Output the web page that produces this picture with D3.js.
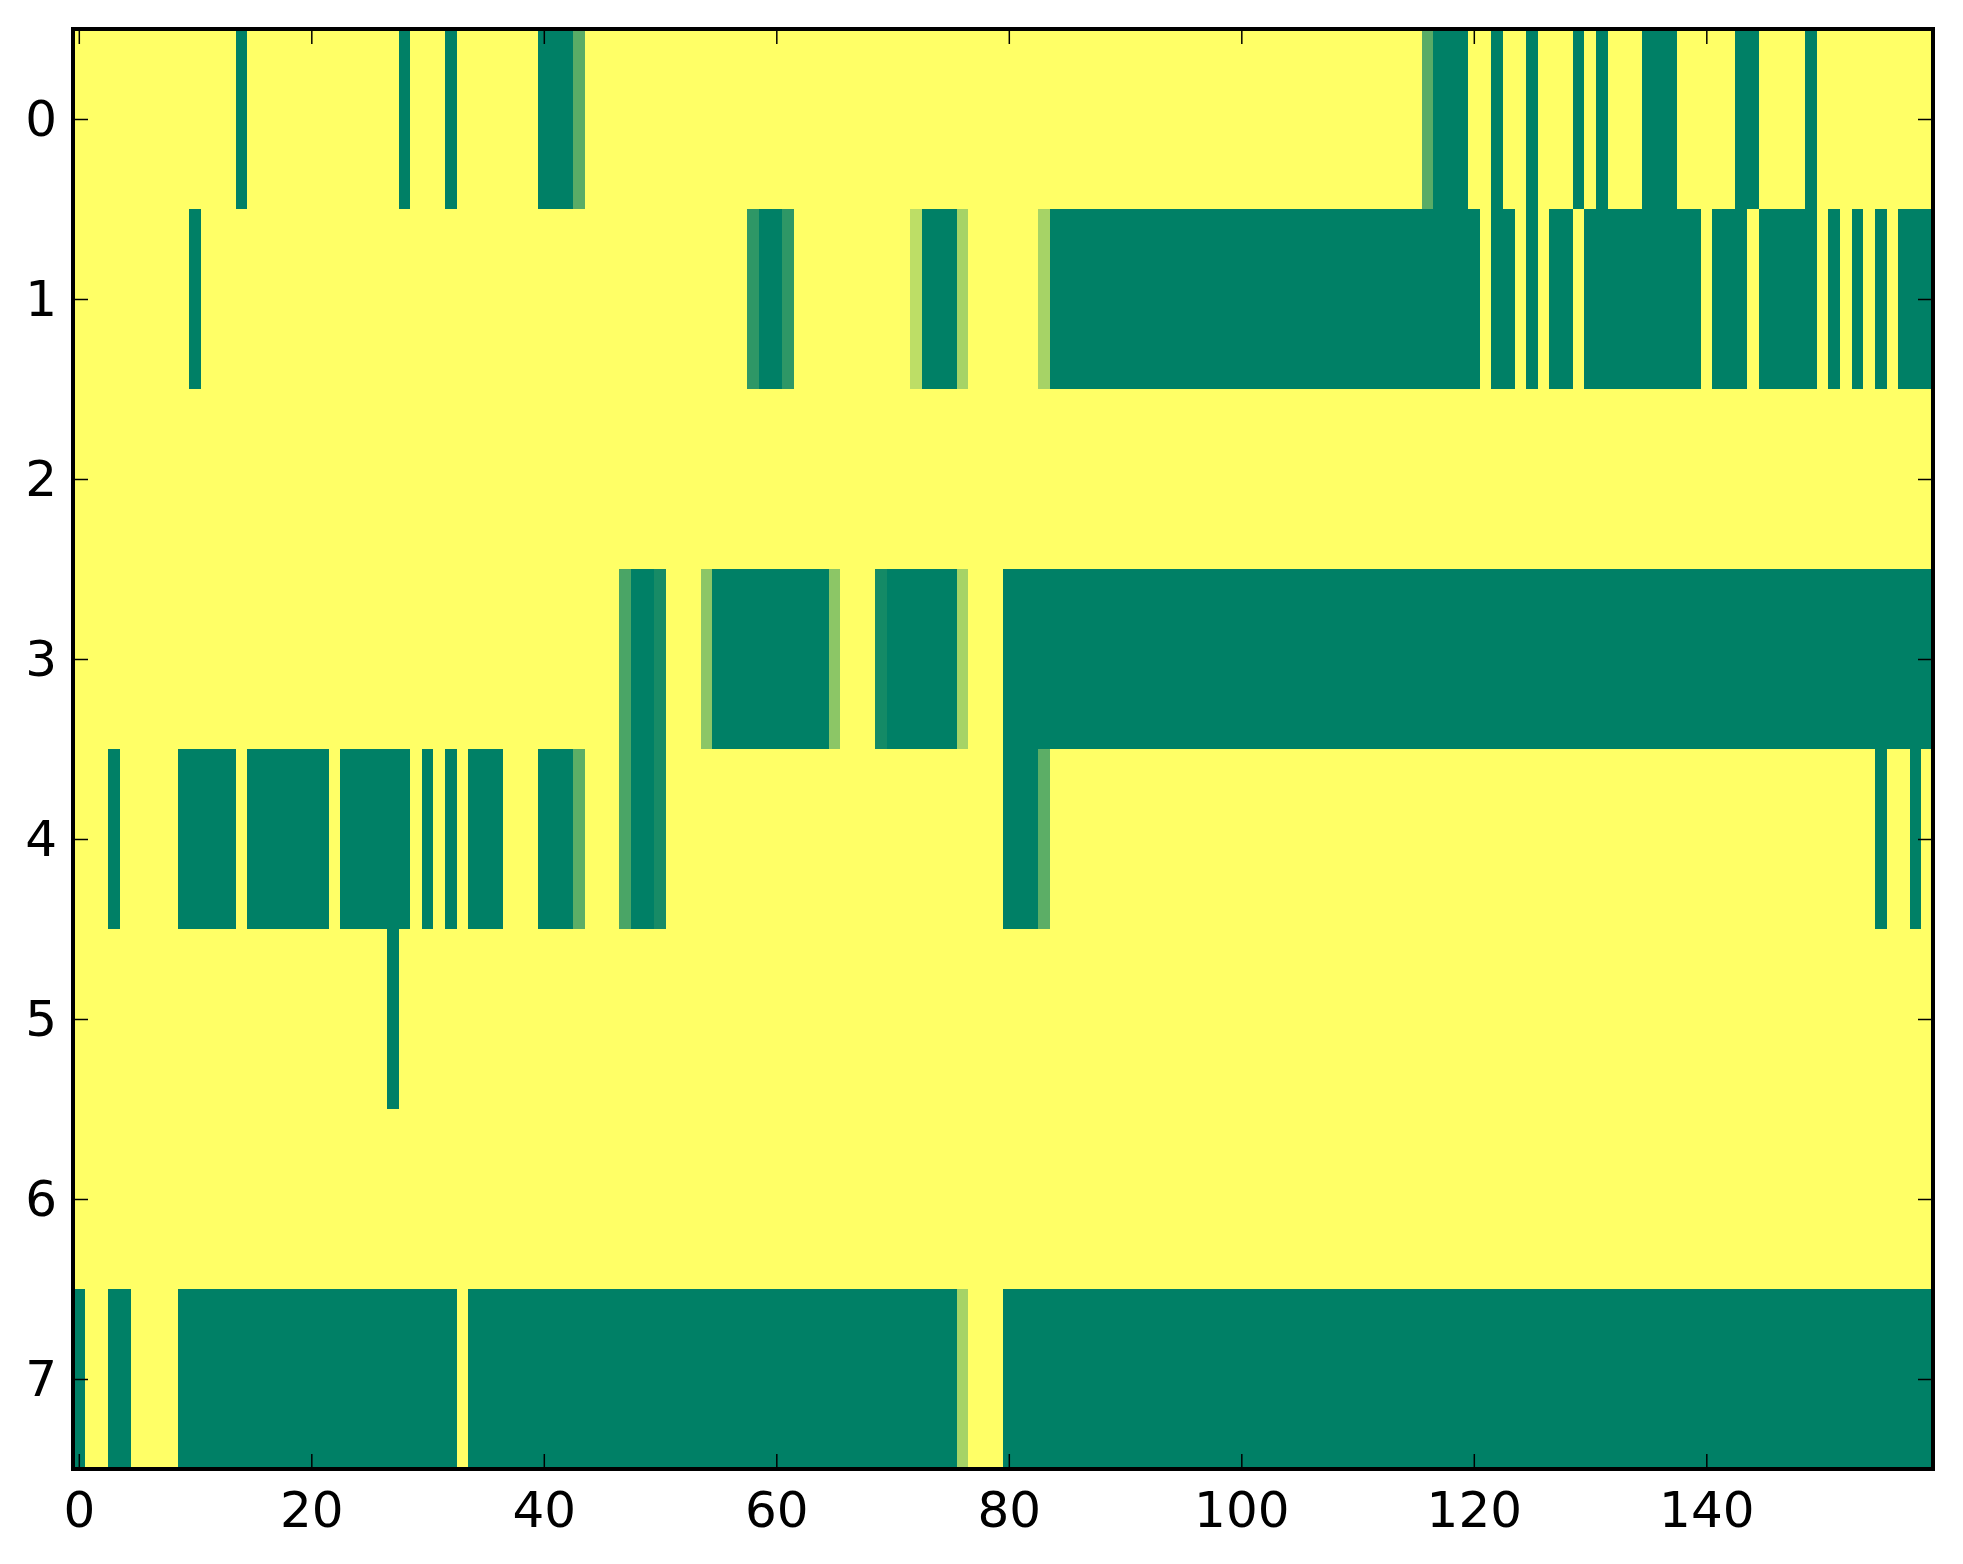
<!DOCTYPE html>
<html>
<head>
<meta charset="utf-8">
<script src="https://cdn.jsdelivr.net/npm/d3@7"></script>
<style>
  html, body { margin: 0; padding: 0; background: #ffffff; }
  svg { display: block; }
</style>
</head>
<body>
<div id="chart"></div>
<script>
// ---- Data: 8 rows x 160 columns (values 0..1, colormap "summer") ----
const rowLabels = [0, 1, 2, 3, 4, 5, 6, 7];
const xTickValues = [0, 20, 40, 60, 80, 100, 120, 140];
const yTickValues = [0, 1, 2, 3, 4, 5, 6, 7];

const row0 = [
  1,1,1,1,1,1,1,1,1,1,  1,1,1,1,0,1,1,1,1,1,  1,1,1,1,1,1,1,1,0,1,  1,1,0,1,1,1,1,1,1,1,
  0,0,0,.35,1,1,1,1,1,1,  1,1,1,1,1,1,1,1,1,1,  1,1,1,1,1,1,1,1,1,1,  1,1,1,1,1,1,1,1,1,1,
  1,1,1,1,1,1,1,1,1,1,  1,1,1,1,1,1,1,1,1,1,  1,1,1,1,1,1,1,1,1,1,  1,1,1,1,1,1,.35,0,0,0,
  1,1,0,1,1,0,1,1,1,0,  1,0,1,1,1,0,0,0,1,1,  1,1,1,0,0,1,1,1,1,0,  1,1,1,1,1,1,1,1,1,1
];
const row1 = [
  1,1,1,1,1,1,1,1,1,1,  0,1,1,1,1,1,1,1,1,1,  1,1,1,1,1,1,1,1,1,1,  1,1,1,1,1,1,1,1,1,1,
  1,1,1,1,1,1,1,1,1,1,  1,1,1,1,1,1,1,1,.18,0,  0,.18,1,1,1,1,1,1,1,1,  1,1,.74,0,0,0,.65,1,1,1,
  1,1,1,.65,0,0,0,0,0,0,  0,0,0,0,0,0,0,0,0,0,  0,0,0,0,0,0,0,0,0,0,  0,0,0,0,0,0,0,0,0,0,
  0,1,0,0,1,0,1,0,0,1,  0,0,0,0,0,0,0,0,0,0,  1,0,0,0,1,0,0,0,0,0,  1,0,1,0,1,0,1,0,0,0
];
const row2 = [
  1,1,1,1,1,1,1,1,1,1,  1,1,1,1,1,1,1,1,1,1,  1,1,1,1,1,1,1,1,1,1,  1,1,1,1,1,1,1,1,1,1,
  1,1,1,1,1,1,1,1,1,1,  1,1,1,1,1,1,1,1,1,1,  1,1,1,1,1,1,1,1,1,1,  1,1,1,1,1,1,1,1,1,1,
  1,1,1,1,1,1,1,1,1,1,  1,1,1,1,1,1,1,1,1,1,  1,1,1,1,1,1,1,1,1,1,  1,1,1,1,1,1,1,1,1,1,
  1,1,1,1,1,1,1,1,1,1,  1,1,1,1,1,1,1,1,1,1,  1,1,1,1,1,1,1,1,1,1,  1,1,1,1,1,1,1,1,1,1
];
const row3 = [
  1,1,1,1,1,1,1,1,1,1,  1,1,1,1,1,1,1,1,1,1,  1,1,1,1,1,1,1,1,1,1,  1,1,1,1,1,1,1,1,1,1,
  1,1,1,1,1,1,1,.29,0,0,  .09,1,1,1,.55,0,0,0,0,0,  0,0,0,0,0,.55,1,1,1,.08,  0,0,0,0,0,0,.65,1,1,1,
  0,0,0,0,0,0,0,0,0,0,  0,0,0,0,0,0,0,0,0,0,  0,0,0,0,0,0,0,0,0,0,  0,0,0,0,0,0,0,0,0,0,
  0,0,0,0,0,0,0,0,0,0,  0,0,0,0,0,0,0,0,0,0,  0,0,0,0,0,0,0,0,0,0,  0,0,0,0,0,0,0,0,0,0
];
const row4 = [
  1,1,1,0,1,1,1,1,1,0,  0,0,0,0,1,0,0,0,0,0,  0,0,1,0,0,0,0,0,0,1,  0,1,0,1,0,0,0,1,1,1,
  0,0,0,.36,1,1,1,.29,0,0,  .09,1,1,1,1,1,1,1,1,1,  1,1,1,1,1,1,1,1,1,1,  1,1,1,1,1,1,1,1,1,1,
  0,0,0,.36,1,1,1,1,1,1,  1,1,1,1,1,1,1,1,1,1,  1,1,1,1,1,1,1,1,1,1,  1,1,1,1,1,1,1,1,1,1,
  1,1,1,1,1,1,1,1,1,1,  1,1,1,1,1,1,1,1,1,1,  1,1,1,1,1,1,1,1,1,1,  1,1,1,1,1,0,1,1,0,1
];
const row5 = [
  1,1,1,1,1,1,1,1,1,1,  1,1,1,1,1,1,1,1,1,1,  1,1,1,1,1,1,1,0,1,1,  1,1,1,1,1,1,1,1,1,1,
  1,1,1,1,1,1,1,1,1,1,  1,1,1,1,1,1,1,1,1,1,  1,1,1,1,1,1,1,1,1,1,  1,1,1,1,1,1,1,1,1,1,
  1,1,1,1,1,1,1,1,1,1,  1,1,1,1,1,1,1,1,1,1,  1,1,1,1,1,1,1,1,1,1,  1,1,1,1,1,1,1,1,1,1,
  1,1,1,1,1,1,1,1,1,1,  1,1,1,1,1,1,1,1,1,1,  1,1,1,1,1,1,1,1,1,1,  1,1,1,1,1,1,1,1,1,1
];
const row6 = [
  1,1,1,1,1,1,1,1,1,1,  1,1,1,1,1,1,1,1,1,1,  1,1,1,1,1,1,1,1,1,1,  1,1,1,1,1,1,1,1,1,1,
  1,1,1,1,1,1,1,1,1,1,  1,1,1,1,1,1,1,1,1,1,  1,1,1,1,1,1,1,1,1,1,  1,1,1,1,1,1,1,1,1,1,
  1,1,1,1,1,1,1,1,1,1,  1,1,1,1,1,1,1,1,1,1,  1,1,1,1,1,1,1,1,1,1,  1,1,1,1,1,1,1,1,1,1,
  1,1,1,1,1,1,1,1,1,1,  1,1,1,1,1,1,1,1,1,1,  1,1,1,1,1,1,1,1,1,1,  1,1,1,1,1,1,1,1,1,1
];
const row7 = [
  0,1,1,0,0,1,1,1,1,0,  0,0,0,0,0,0,0,0,0,0,  0,0,0,0,0,0,0,0,0,0,  0,0,0,1,0,0,0,0,0,0,
  0,0,0,0,0,0,0,0,0,0,  0,0,0,0,0,0,0,0,0,0,  0,0,0,0,0,0,0,0,0,0,  0,0,0,0,0,0,.65,1,1,1,
  0,0,0,0,0,0,0,0,0,0,  0,0,0,0,0,0,0,0,0,0,  0,0,0,0,0,0,0,0,0,0,  0,0,0,0,0,0,0,0,0,0,
  0,0,0,0,0,0,0,0,0,0,  0,0,0,0,0,0,0,0,0,0,  0,0,0,0,0,0,0,0,0,0,  0,0,0,0,0,0,0,0,0,0
];
const rows = [row0, row1, row2, row3, row4, row5, row6, row7];

// ---- Layout ----
const W = 1963, H = 1564;
const plotL = 73, plotR = 1933, plotT = 29, plotB = 1469;
const nCols = row0.length;

const x = d3.scaleLinear().domain([-0.5, nCols - 0.5]).range([plotL, plotR]);
const y = d3.scaleLinear().domain([-0.5, rowLabels.length - 0.5]).range([plotT, plotB]);
// matplotlib "summer": (v, 0.5+0.5v, 0.4)
const color = d3.scaleLinear().domain([0, 1]).range(["#008066", "#ffff66"]).interpolate(d3.interpolateRgb);

const svg = d3.select("#chart").append("svg")
  .attr("width", W).attr("height", H)
  .style("font-family", "'DejaVu Sans', sans-serif");

svg.append("rect").attr("width", W).attr("height", H).attr("fill", "#ffffff");

const cells = [];
rows.forEach((r, ri) => r.forEach((v, ci) => cells.push({ r: rowLabels[ri], c: ci, v })));

svg.append("g").selectAll("rect").data(cells).join("rect")
  .attr("x", d => x(d.c - 0.5))
  .attr("y", d => y(d.r - 0.5))
  .attr("width", d => x(d.c + 0.5) - x(d.c - 0.5) + 0.4)
  .attr("height", d => y(d.r + 0.5) - y(d.r - 0.5) + 0.4)
  .attr("fill", d => color(d.v))
  .attr("shape-rendering", "crispEdges");

// ---- Axes (ticks inside, on all four sides) ----
const tickLen = 15;
function styleAxis(g) {
  g.select(".domain").remove();
  g.selectAll(".tick line").attr("stroke", "#000").attr("stroke-width", 1.5);
  g.selectAll(".tick text").attr("fill", "#000").style("font-size", "50px")
    .style("font-family", "'DejaVu Sans', sans-serif");
}

svg.append("g").attr("transform", `translate(0,${plotB})`)
  .call(d3.axisBottom(x).tickValues(xTickValues).tickSize(-tickLen).tickPadding(22).tickFormat(d3.format("d")))
  .call(styleAxis);
svg.append("g").attr("transform", `translate(0,${plotT})`)
  .call(d3.axisTop(x).tickValues(xTickValues).tickSize(-tickLen).tickFormat(""))
  .call(styleAxis);
svg.append("g").attr("transform", `translate(${plotL},0)`)
  .call(d3.axisLeft(y).tickValues(yTickValues).tickSize(-tickLen).tickPadding(16).tickFormat(d3.format("d")))
  .call(styleAxis);
svg.append("g").attr("transform", `translate(${plotR},0)`)
  .call(d3.axisRight(y).tickValues(yTickValues).tickSize(-tickLen).tickFormat(""))
  .call(styleAxis);

// frame
svg.append("rect")
  .attr("x", plotL).attr("y", plotT)
  .attr("width", plotR - plotL).attr("height", plotB - plotT)
  .attr("fill", "none").attr("stroke", "#000").attr("stroke-width", 4);
</script>
</body>
</html>
